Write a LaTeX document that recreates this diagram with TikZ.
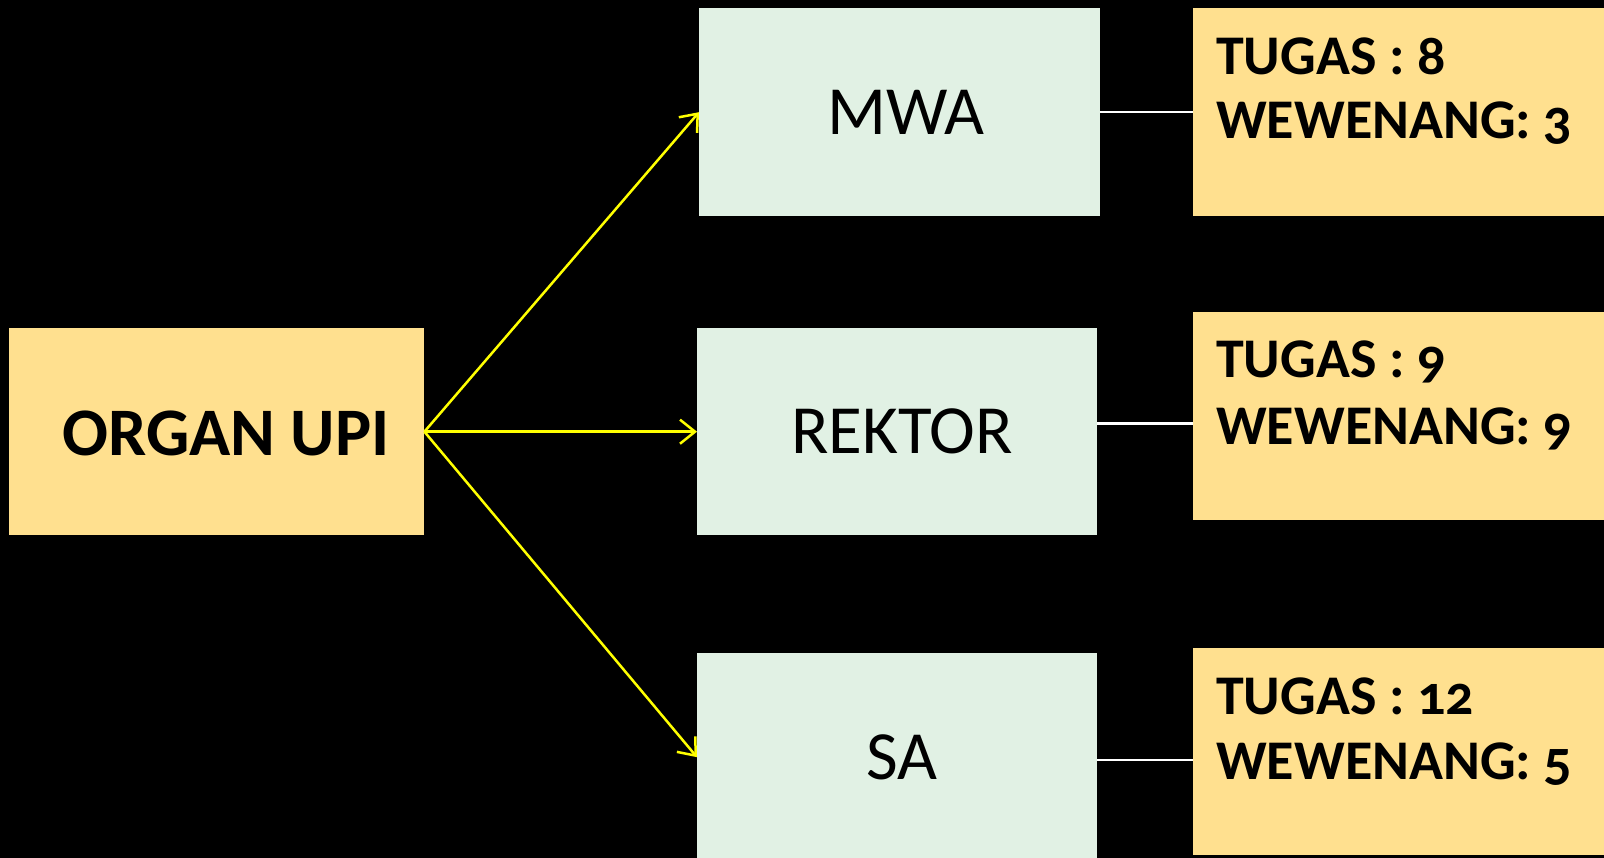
\documentclass[tikz,border=0pt]{standalone}
\usepackage{fontspec}
\setmainfont{Carlito}[Numbers=OldStyle]
\usetikzlibrary{arrows.meta}
\definecolor{boxyellow}{HTML}{FFE08F}
\definecolor{boxgreen}{HTML}{E1F1E4}
\definecolor{arrowyellow}{HTML}{FFFF00}
\begin{document}
\begin{tikzpicture}[x=1pt,y=-1pt,
  ybox/.style={rectangle, fill=boxyellow, draw=none, inner sep=0pt, anchor=north west},
  gbox/.style={rectangle, fill=boxgreen, draw=none, inner sep=0pt, anchor=north west,
    font=\fontsize{69}{72}\selectfont, text=black},
  infotext/.style={anchor=base west, inner sep=0pt, font=\fontsize{56}{60}\selectfont\bfseries, text=black},
  yarrow/.style={draw=arrowyellow, line width=2.5pt, -{Straight Barb[length=15pt,width=24pt,line width=2.5pt]}},
  wline/.style={draw=white, line width=2.5pt}
]
\fill[black] (0,0) rectangle (1604,858);
\useasboundingbox (0,0) rectangle (1604,858);

\node[ybox, minimum width=415pt, minimum height=207pt] (organ) at (9,328) {};
\node[anchor=base, inner sep=0pt, font=\fontsize{68}{72}\selectfont\bfseries] (organtext) at (226,455) {ORGAN UPI};

\node[gbox, minimum width=401pt, minimum height=208pt] (mwa) at (699,8) {\hspace*{12pt}MWA};
\node[gbox, minimum width=400pt, minimum height=207pt] (rektor) at (697,328) {\hspace*{10pt}REKTOR};
\node[gbox, minimum width=400pt, minimum height=208pt] (sa) at (697,653) {\hspace*{10pt}SA};

\node[ybox, minimum width=420pt, minimum height=208pt] (t1) at (1193,8) {};
\node[ybox, minimum width=420pt, minimum height=208pt] (t2) at (1193,312) {};
\node[ybox, minimum width=420pt, minimum height=207pt] (t3) at (1193,648) {};

\node[infotext] (t1a) at (1216,75) {TUGAS : 8};
\node[infotext] (t1b) at (1216,139) {WEWENANG: 3};
\node[infotext] (t2a) at (1216,378) {TUGAS : 9};
\node[infotext] (t2b) at (1216,444) {WEWENANG: 9};
\node[infotext] (t3a) at (1216,714) {TUGAS : 12};
\node[infotext] (t3b) at (1216,779) {WEWENANG: 5};

\draw[yarrow] (organ.east) -- (mwa.west);
\draw[yarrow] (organ.east) -- (rektor.west);
\draw[yarrow] (organ.east) -- (sa.west);

\coordinate (r1) at (mwa.east);
\coordinate (r2) at ([yshift=8pt]rektor.east);
\coordinate (r3) at ([yshift=-3pt]sa.east);
\draw[wline] (r1) -- (r1 -| t1.west);
\draw[wline] (r2) -- (r2 -| t2.west);
\draw[wline] (r3) -- (r3 -| t3.west);
\end{tikzpicture}
\end{document}
